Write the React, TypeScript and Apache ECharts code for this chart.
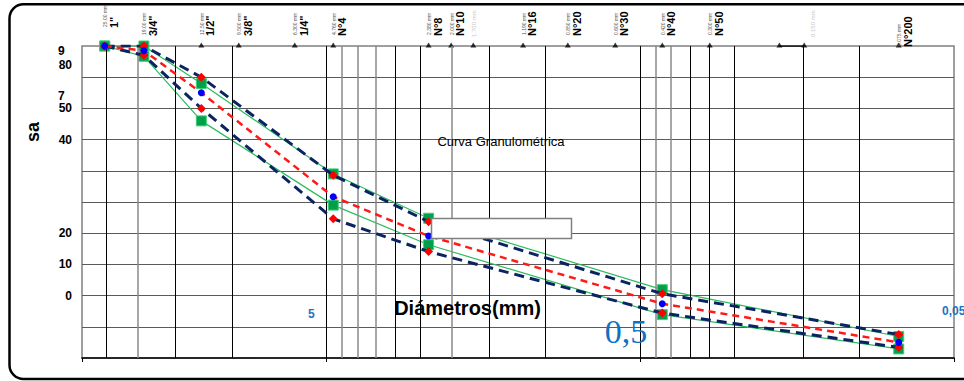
import React, { useEffect, useRef } from "react";
import * as echarts from "echarts";

// Sieve openings (mm) where the curves are measured
const sizesMM = [25.4, 19.05, 12.5, 4.75, 2.36, 0.425, 0.075];
// Percent passing
const greenUpper = [100, 100, 88, 59, 44.8, 21.9, 6.9];
const greenLower = [100, 96.7, 76, 49, 36.3, 13.9, 2.9];
const bandUpper = [100, 100, 90, 58.6, 43.7, 20.6, 7.5];
const bandLower = [100, 97, 80, 44.6, 34.1, 14.4, 3.4];
const midCurve = [100, 98.5, 85, 51.7, 39.1, 17.4, 5.0];

// Top sieve labels
const sieveNames = ['1"', '3/4"', '1/2"', '3/8"', '1/4"', "N°4", "N°8", "N°10", "N°16", "N°20", "N°30", "N°40", "N°50", "N°200"];
const sieveSizes = [25.4, 19.05, 12.5, 9.5, 6.3, 4.75, 2.36, 2.0, 1.18, 0.85, 0.6, 0.425, 0.3, 0.075];
const sieveSizeText = ["25.00 mm", "19.00 mm", "12.50 mm", "9.500 mm", "6.300 mm", "4.760 mm", "2.380 mm", "2.000 mm", "1.190 mm", "0.850 mm", "0.600 mm", "0.420 mm", "0.300 mm", "0.075 mm"];
const triangleSizes = [12.5, 9.5, 6.3, 4.75, 2.36, 2.0, 1.7, 1.18, 0.85, 0.6, 0.425, 0.3, 0.18, 0.15, 0.075];
const topSegment = [0.18, 0.15];
const faintSizes = [1.7, 0.15];
const faintTexts = ["1.700 mm", "0.150 mm"];

// Grid lines (mm)
const blackGridMM = [25, 15, 10, 3, 2.5, 1.5, 1, 0.35, 0.3, 0.25, 0.15, 0.1];
const greyGridMM = [20, 4.5, 4, 3.5, 2, 0.45, 0.4];

// Axis labels
const xTickValues = [5, 0.5, 0.05];
const xTickLabels = ["5", "0,5", "0,05"];
const yTickValues = [80, 70, 40, 30, 20];
const yTickLabels = ["50", "40", "20", "10", "0"];
const yExtraValues = [98.4, 93.8, 84];
const yExtraLabels = ["9", "80", "7"];

const L = (v: number) => Math.log10(v);
const FONT = "Liberation Sans, Arial, sans-serif";

export default function App() {
  const ref = useRef<HTMLDivElement>(null);
  useEffect(() => {
    if (!ref.current) return;
    const chart = echarts.init(ref.current, null, { renderer: "svg" });
    const pts = (vals: number[]) => sizesMM.map((s, i) => [L(s), vals[i]]);
    const yMap: Record<number, string> = {};
    yTickValues.forEach((v, i) => (yMap[v] = yTickLabels[i]));

    const option: any = {
      animation: false,
      backgroundColor: "#fff",
      grid: { left: 82, right: 10, top: 46, bottom: 23, show: true, borderColor: "#808080", borderWidth: 1.5 },
      xAxis: {
        type: "value",
        min: L(0.05),
        max: L(30),
        interval: 1,
        inverse: true,
        axisLine: { show: true, onZero: false, lineStyle: { color: "#000", width: 1.5 } },
        axisTick: { show: true, length: 4, lineStyle: { color: "#000" } },
        axisLabel: { show: false },
        splitLine: { show: true, showMinLine: false, showMaxLine: false, lineStyle: { color: "#000", width: 1 } },
      },
      yAxis: {
        type: "value",
        min: 0,
        max: 100,
        interval: 10,
        axisLine: { show: false },
        axisTick: { show: false },
        axisLabel: {
          show: true,
          margin: 10,
          color: "#000",
          fontWeight: "bold",
          fontSize: 12,
          fontFamily: FONT,
          formatter: (v: number) => yMap[Math.round(v)] || "",
        },
        splitLine: { show: true, showMinLine: false, showMaxLine: false, lineStyle: { color: "#5a5a5a", width: 1 } },
      },
      series: [
        {
          type: "line",
          data: [],
          z: 1,
          silent: true,
          markLine: {
            silent: true,
            symbol: ["none", "none"],
            label: { show: false },
            lineStyle: { color: "#8a8a8a", width: 1.5, type: "solid" },
            data: greyGridMM.map((v) => ({ xAxis: L(v) })),
          },
        },
        {
          type: "line",
          data: [],
          z: 1,
          silent: true,
          markLine: {
            silent: true,
            symbol: ["none", "none"],
            label: { show: false },
            lineStyle: { color: "#000", width: 1, type: "solid" },
            data: blackGridMM.map((v) => ({ xAxis: L(v) })),
          },
        },
        {
          type: "line",
          data: topSegment.map((s) => [L(s), 100]),
          symbol: "none",
          lineStyle: { color: "#000", width: 1.5 },
          z: 3,
        },
        {
          type: "scatter",
          data: triangleSizes.map((s) => [L(s), 100]),
          symbol: "triangle",
          symbolSize: [6, 5],
          symbolOffset: [0, -1],
          itemStyle: { color: "#000" },
          clip: false,
          z: 3,
        },
        ...[greenUpper, greenLower].map((vals) => ({
          type: "line",
          data: pts(vals),
          symbol: "rect",
          symbolSize: 10,
          itemStyle: { color: "#00a04a", borderColor: "#3fcf78", borderWidth: 1 },
          lineStyle: { color: "#2dbb62", width: 1.2 },
          z: 4,
        })),
        ...[bandUpper, bandLower].map((vals) => ({
          type: "line",
          data: pts(vals),
          symbol: "diamond",
          symbolSize: 9,
          itemStyle: { color: "#ff0000" },
          lineStyle: { color: "#0b2461", width: 3, type: [10, 6] },
          z: 5,
        })),
        {
          type: "line",
          data: pts(midCurve),
          symbol: "circle",
          symbolSize: 7,
          itemStyle: { color: "#0000ff" },
          lineStyle: { color: "#ff1a1a", width: 2.5, type: [7, 5] },
          z: 6,
        },
      ],
    };
    chart.setOption(option);

    const toPx = (mm: number, v: number) => chart.convertToPixel({ gridIndex: 0 }, [L(mm), v]) as number[];
    const g: any[] = [];
    // outer rounded frame
    g.push({
      type: "rect",
      z: 100,
      shape: { x: 9.5, y: 4.3, width: 1000, height: 374.7, r: 14 },
      style: { fill: "none", stroke: "#000", lineWidth: 2.5 },
    });
    // sieve labels
    sieveNames.forEach((name, i) => {
      const [x] = toPx(sieveSizes[i], 100);
      let bottom = 36;
      if (i === 0) bottom = 28;
      if (i === sieveNames.length - 1) bottom = 47;
      g.push({
        type: "text",
        z: 100,
        x: x + 0.5,
        y: bottom - 1,
        rotation: Math.PI / 2,
        style: { text: sieveSizeText[i], font: `5px ${FONT}`, fill: "#555", align: "left", verticalAlign: "middle" },
      });
      g.push({
        type: "text",
        z: 100,
        x: x + 9,
        y: bottom,
        rotation: Math.PI / 2,
        style: { text: name, font: `bold 11px ${FONT}`, fill: "#000", align: "left", verticalAlign: "middle" },
      });
    });
    faintSizes.forEach((s, i) => {
      const [x] = toPx(s, 100);
      g.push({
        type: "text",
        z: 100,
        x: x + (i === 0 ? 0.5 : 9),
        y: 37,
        rotation: Math.PI / 2,
        style: { text: faintTexts[i], font: `6px ${FONT}`, fill: "#c8c8c8", align: "left", verticalAlign: "middle" },
      });
    });
    // y extra labels
    yExtraLabels.forEach((t, i) => {
      const [, y] = toPx(1, yExtraValues[i]);
      g.push({
        type: "text",
        z: 100,
        x: t.length === 1 ? 58 : 72,
        y,
        style: { text: t, font: `bold 12px ${FONT}`, fill: "#000", align: t.length === 1 ? "left" : "right", verticalAlign: "middle" },
      });
    });
    // weird x tick labels (blue)
    xTickValues.forEach((v, i) => {
      const [x] = toPx(v, 0);
      if (i === 0) {
        g.push({ type: "text", z: 100, x: x - 15, y: 314, style: { text: xTickLabels[i], font: `bold 12px ${FONT}`, fill: "#1a75c8", align: "center", verticalAlign: "middle" } });
      } else if (i === 1) {
        g.push({ type: "text", z: 100, x: x - 14, y: 331, style: { text: xTickLabels[i], font: `34px Liberation Serif, Times New Roman, serif`, fill: "#1170c2", align: "center", verticalAlign: "middle" } });
      } else {
        g.push({ type: "text", z: 100, x: x - 12, y: 311, style: { text: xTickLabels[i], font: `bold 12px ${FONT}`, fill: "#1a75c8", align: "left", verticalAlign: "middle" } });
      }
    });
    // y-axis name (clipped)
    g.push({
      type: "text",
      z: 100,
      x: 33,
      y: 132,
      rotation: Math.PI / 2,
      style: { text: "sa", font: `bold 18px ${FONT}`, fill: "#000", align: "center", verticalAlign: "middle" },
    });
    // chart title inside plot
    g.push({
      type: "text",
      z: 100,
      x: 501,
      y: 141,
      style: { text: "Curva Granulométrica", font: `13px ${FONT}`, fill: "#000", align: "center", verticalAlign: "middle" },
    });
    // x-axis title
    g.push({
      type: "text",
      z: 100,
      x: 467.5,
      y: 308,
      style: { text: "Diámetros(mm)", font: `bold 20px ${FONT}`, fill: "#000", align: "center", verticalAlign: "middle" },
    });
    // empty white box
    g.push({
      type: "rect",
      z: 100,
      shape: { x: 431.5, y: 218.5, width: 140, height: 20 },
      style: { fill: "#fff", stroke: "#808080", lineWidth: 1.5 },
    });
    chart.setOption({ graphic: g });

    return () => chart.dispose();
  }, []);
  return <div ref={ref} style={{ position: "fixed", left: 0, top: 0, width: 964, height: 381, background: "#fff" }} />;
}
